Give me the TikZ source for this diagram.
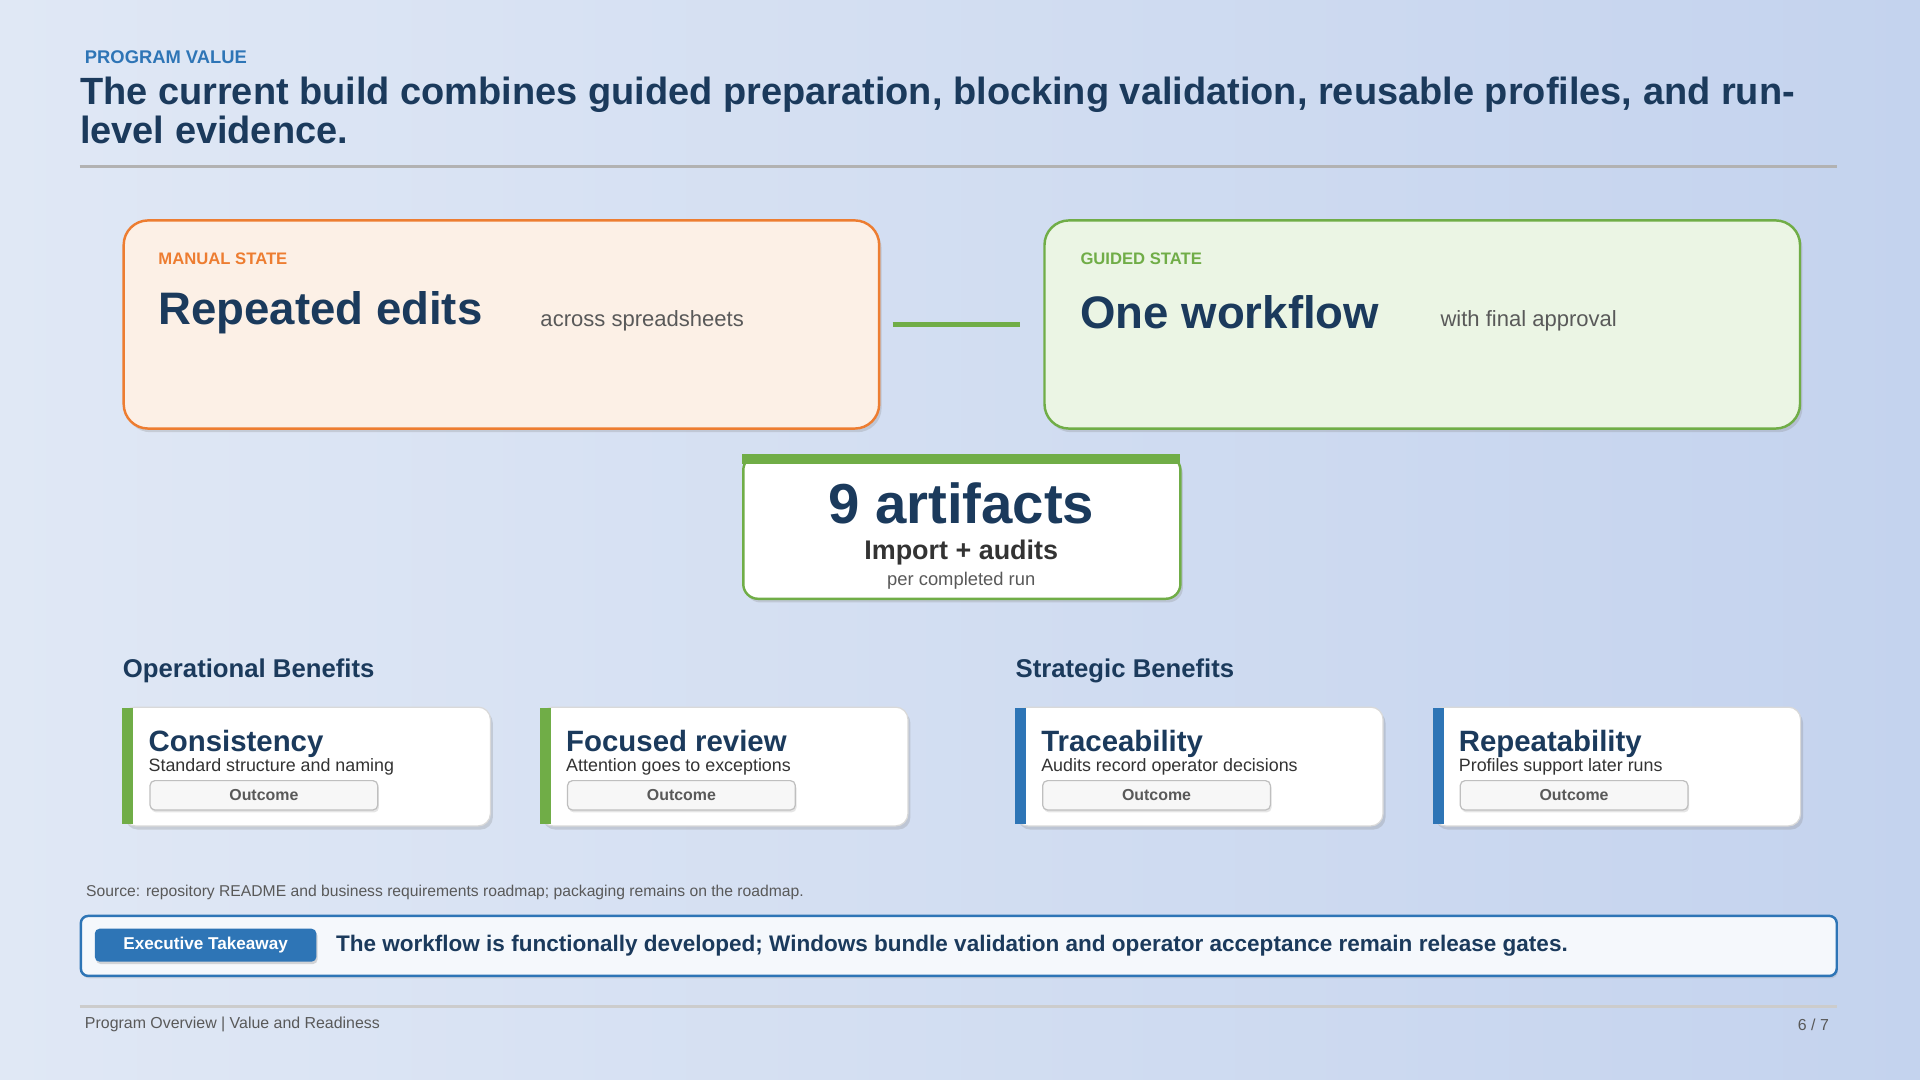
\documentclass[tikz,border=0pt]{standalone}
\usepackage{fontspec}
\setmainfont{Liberation Sans}
\usetikzlibrary{shadows}
\definecolor{navy}{HTML}{1B3A5C}
\definecolor{blu}{HTML}{2E75B6}
\definecolor{org}{HTML}{ED7D31}
\definecolor{grn}{HTML}{70AD47}
\definecolor{gtx}{HTML}{595959}
\newcommand{\fs}[1]{\fontsize{#1}{#1}\selectfont}
\tikzset{
 x=0.5pt,y=-0.5pt,
 txt/.style={inner sep=0pt,anchor=west},
 bigbox/.style={rounded corners=10pt,line width=1pt,drop shadow={opacity=0.25,shadow xshift=1pt,shadow yshift=-1.5pt}},
 card/.style={fill=white,draw=black!15,line width=0.5pt,rounded corners=5pt,drop shadow={opacity=0.25,shadow xshift=1pt,shadow yshift=-1.5pt}},
 btn/.style={fill=black!3,draw=black!25,line width=0.5pt,rounded corners=2pt,drop shadow={opacity=0.2,shadow xshift=0.5pt,shadow yshift=-1pt}},
}
\newcommand{\cardx}[5]{% x, color, title, subtitle, name
 \node[card,minimum width=150pt,minimum height=48.5pt,anchor=north west] (#5) at (#1,577) {};
 \fill[#2] (#1,578) rectangle ++(9,95);
 \node[txt,anchor=base west,text=navy,font=\bfseries\fs{12}] (#5t) at (#1+21,614) {#3};
 \node[txt,anchor=base west,text=black!80,font=\fs{7.3}] (#5s) at (#1+21,630) {#4};
 \node[btn,minimum width=93pt,minimum height=12pt,anchor=north west] (#5b) at (#1+22,637) {};
 \node[text=gtx,font=\bfseries\fs{6.5},inner sep=0pt] at (#5b.center) {Outcome};
}
\begin{document}
\begin{tikzpicture}
\shade[left color={rgb,255:red,224;green,232;blue,245},right color={rgb,255:red,196;green,211;blue,238}] (0,0) rectangle (1568,882);
\useasboundingbox (0,0) rectangle (1568,882);
\node[txt,text=blu,font=\bfseries\fs{7.5}] (kick) at (69,47) {PROGRAM VALUE};
\node[txt,text=navy,font=\bfseries\fs{15.5}] (t1) at (65,77) {The current build combines guided preparation, blocking validation, reusable profiles, and run-};
\node[txt,text=navy,font=\bfseries\fs{15.5}] (t2) at (65,106) {level evidence.};
\draw[black!30,line width=1.5pt] (65,136) -- (1500,136);
% state boxes
\node[bigbox,fill={rgb,255:red,252;green,240;blue,230},draw=org,minimum width=308.5pt,minimum height=85pt,anchor=north west] (man) at (100,179) {};
\node[txt,text=org,font=\bfseries\fs{6.8}] at (129,211) {MANUAL STATE};
\node[txt,text=navy,font=\bfseries\fs{18.6}] at (129,255) {Repeated edits};
\node[txt,text=gtx,font=\fs{9}] at (441,262) {across spreadsheets};
\node[bigbox,fill={rgb,255:red,235;green,245;blue,228},draw=grn,minimum width=308.5pt,minimum height=85pt,anchor=north west] (gui) at (852,179) {};
\node[txt,text=grn,font=\bfseries\fs{6.8}] at (882,211) {GUIDED STATE};
\node[txt,text=navy,font=\bfseries\fs{18.6}] at (882,255) {One workflow};
\node[txt,text=gtx,font=\fs{9}] at (1176,262) {with final approval};
\draw[grn,line width=2pt] ([xshift=5pt]man.east) -- ([xshift=-9.5pt]gui.west);
% artifacts
\node[bigbox,rounded corners=6pt,fill=white,draw=grn,minimum width=178.5pt,minimum height=58.5pt,anchor=north west] (art) at (606,371) {};
\fill[grn] (606,371) rectangle (964,379);
\node[text=navy,font=\bfseries\fs{23},inner sep=0pt] at (785,411) {9 artifacts};
\node[text=black!80,font=\bfseries\fs{11}] at (785,451) {Import + audits};
\node[text=gtx,font=\fs{7.5}] at (785,474) {per completed run};
% benefits
\node[txt,text=navy,font=\bfseries\fs{10.5}] at (100,548) {Operational Benefits};
\node[txt,text=navy,font=\bfseries\fs{10.5}] at (829,548) {Strategic Benefits};
\cardx{100}{grn}{Consistency}{Standard structure and naming}{k1}
\cardx{441}{grn}{Focused review}{Attention goes to exceptions}{k2}
\cardx{829}{blu}{Traceability}{Audits record operator decisions}{k3}
\cardx{1170}{blu}{Repeatability}{Profiles support later runs}{k4}
\node[txt,text=gtx,font=\fs{6.4}] at (70,729) {Source: repository README and business requirements roadmap; packaging remains on the roadmap.};
\node[fill={rgb,255:red,245;green,248;blue,252},draw=blu,line width=1pt,rounded corners=3pt,minimum width=717pt,minimum height=24.5pt,anchor=north west,drop shadow={opacity=0.2,shadow xshift=0.5pt,shadow yshift=-1pt}] (tk) at (65,747) {};
\node[fill=blu,rounded corners=2pt,minimum width=90.5pt,minimum height=13.5pt,anchor=north west,drop shadow={opacity=0.3,shadow xshift=0.5pt,shadow yshift=-1pt}] (pill) at (77,758) {};
\node[text=white,font=\bfseries\fs{7},inner sep=0pt] at (pill.center) {Executive Takeaway};
\node[txt,text=navy,font=\bfseries\fs{9.2}] at (274,772) {The workflow is functionally developed; Windows bundle validation and operator acceptance remain release gates.};
\draw[black!20,line width=1.5pt] (65,822) -- (1500,822);
\node[txt,text=gtx,font=\fs{6.5}] at (69,837) {Program Overview | Value and Readiness};
\node[txt,anchor=east,text=gtx,font=\fs{6.5}] at (1494,837) {6 / 7};
\end{tikzpicture}
\end{document}
